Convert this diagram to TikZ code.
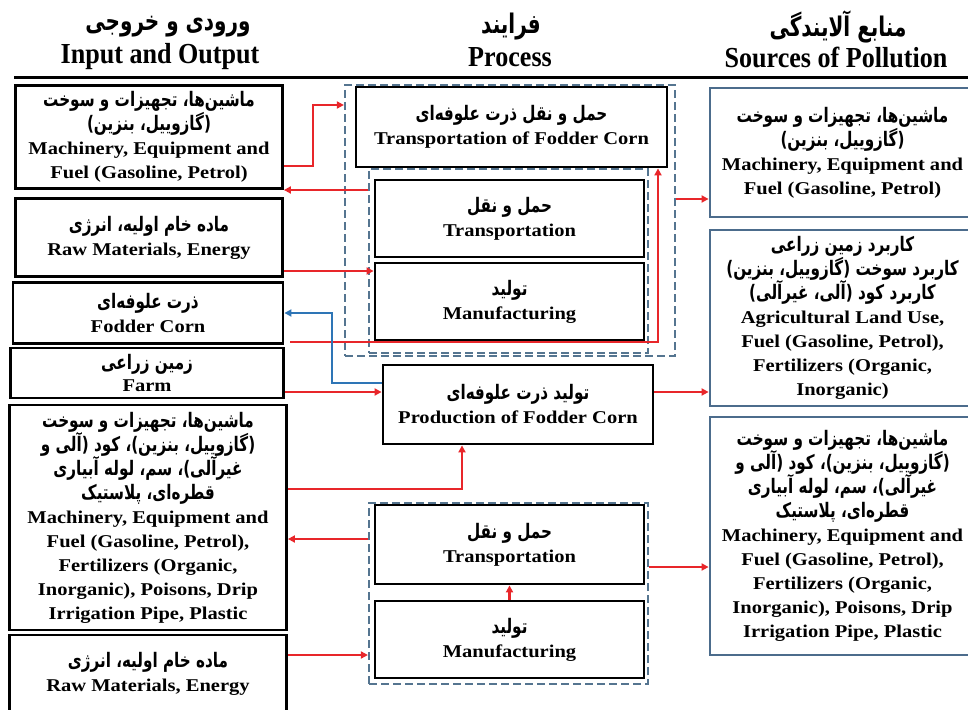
\documentclass[tikz,border=0pt]{standalone}
\usepackage{fontspec}
\usetikzlibrary{arrows.meta}
\setmainfont{Liberation Serif}
\newfontfamily\enfont[FakeStretch=1.14]{Liberation Serif}
\newfontfamily\hdfont[FakeStretch=0.9]{Liberation Serif}
\newfontfamily\fafont[Script=Arabic,FakeStretch=0.76]{DejaVu Sans}
\newfontfamily\fahfont[Script=Arabic,FakeStretch=0.74]{DejaVu Sans}
\TeXXeTstate=1
\newcommand{\fa}[1]{{\fafont\bfseries\fontsize{20}{20}\selectfont\beginR #1\endR}}
\newcommand{\fah}[1]{{\fahfont\bfseries\fontsize{27}{27}\selectfont\beginR #1\endR}}
\definecolor{ar}{HTML}{E8262A}
\definecolor{ab}{HTML}{2E75B6}
\definecolor{db}{HTML}{557590}
\definecolor{rb}{HTML}{4C6C8C}
\tikzset{
  blk/.style={draw=black, line width=2.8pt, fill=white, inner sep=1pt, align=center,
    font=\enfont\bfseries\fontsize{18}{24}\selectfont},
  rbx/.style={blk, draw=rb},
  dbx/.style={draw=db, line width=2.2pt, dash pattern=on 8pt off 4pt, inner sep=0pt},
  rarr/.style={draw=ar, line width=2.2pt, -{Triangle[length=7pt,width=7pt]}},
  barr/.style={draw=ab, line width=2.2pt, -{Triangle[length=7pt,width=7pt]}},
  hd/.style={align=center, inner sep=0pt, font=\hdfont\bfseries\fontsize{29}{30}\selectfont}
}
\begin{document}
\begin{tikzpicture}[x=1pt,y=-1pt]
\useasboundingbox (0,0) rectangle (968,709);
\begin{scope}
\clip (0,0) rectangle (968,709);
% headers
\node[hd] (h1a) at (168,27) {\fah{ورودی و خروجی}};
\node[hd] (h1b) at (160,57) {Input and Output};
\node[hd] (h2a) at (511,27) {\fah{فرایند}};
\node[hd] (h2b) at (510,57) {Process};
\node[hd] (h3a) at (838,27) {\fah{منابع آلایندگی}};
\node[hd] (h3b) at (836,57) {Sources of Pollution};
\draw[line width=3pt] (14,77) -- (968,77);

% dashed groups
\node[dbx, minimum width=330, minimum height=271] (outer) at (510,220.5) {};
\node[dbx, minimum width=279, minimum height=184] (inner) at (508.5,261) {};
\node[dbx, minimum width=279, minimum height=181] (lower) at (508.5,593.5) {};

% left column
\node[blk, minimum width=267, minimum height=103] (L1) at (149,137)
 {\fa{ماشین‌ها، تجهیزات و سوخت}\\\fa{(گازوییل، بنزین)}\\Machinery, Equipment and\\Fuel (Gasoline, Petrol)};
\node[blk, minimum width=267, minimum height=78] (L2) at (149,237.5)
 {\fa{ماده خام اولیه، انرژی}\\Raw Materials, Energy};
\node[blk, minimum width=270, minimum height=61] (L3) at (148,313)
 {\fa{ذرت علوفه‌ای}\\Fodder Corn};
\node[blk, minimum width=273, minimum height=50, font=\enfont\bfseries\fontsize{18}{22}\selectfont] (L4) at (147,373)
 {\fa{زمین زراعی}\\Farm};
\node[blk, minimum width=277, minimum height=225] (L5) at (148,517.5)
 {\fa{ماشین‌ها، تجهیزات و سوخت}\\\fa{(گازوییل، بنزین)، کود (آلی و}\\\fa{غیرآلی)، سم، لوله آبیاری}\\\fa{قطره‌ای، پلاستیک}\\Machinery, Equipment and\\Fuel (Gasoline, Petrol),\\Fertilizers (Organic,\\Inorganic), Poisons, Drip\\Irrigation Pipe, Plastic};
\node[blk, minimum width=277, minimum height=78] (L6) at (148,674)
 {\fa{ماده خام اولیه، انرژی}\\Raw Materials, Energy};

% middle column
\node[blk, minimum width=311, minimum height=80] (T0) at (511.5,127)
 {\fa{حمل و نقل ذرت علوفه‌ای}\\Transportation of Fodder Corn};
\node[blk, minimum width=269, minimum height=77] (T1) at (509.5,218.5)
 {\fa{حمل و نقل}\\Transportation};
\node[blk, minimum width=269, minimum height=77] (M1) at (509.5,301.5)
 {\fa{تولید}\\Manufacturing};
\node[blk, minimum width=270, minimum height=79] (P) at (518,404.5)
 {\fa{تولید ذرت علوفه‌ای}\\Production of Fodder Corn};
\node[blk, minimum width=269, minimum height=79] (T2) at (509.5,544.5)
 {\fa{حمل و نقل}\\Transportation};
\node[blk, minimum width=269, minimum height=77] (M2) at (509.5,639.5)
 {\fa{تولید}\\Manufacturing};

% right column
\node[rbx, minimum width=265, minimum height=129] (R1) at (842.5,152.5)
 {\fa{ماشین‌ها، تجهیزات و سوخت}\\\fa{(گازوییل، بنزین)}\\Machinery, Equipment and\\Fuel (Gasoline, Petrol)};
\node[rbx, minimum width=265, minimum height=176] (R2) at (842.5,318)
 {\fa{کاربرد زمین زراعی}\\\fa{کاربرد سوخت (گازوییل، بنزین)}\\\fa{کاربرد کود (آلی، غیرآلی)}\\Agricultural Land Use,\\Fuel (Gasoline, Petrol),\\Fertilizers (Organic,\\Inorganic)};
\node[rbx, minimum width=265, minimum height=238] (R3) at (842.5,536)
 {\fa{ماشین‌ها، تجهیزات و سوخت}\\\fa{(گازوییل، بنزین)، کود (آلی و}\\\fa{غیرآلی)، سم، لوله آبیاری}\\\fa{قطره‌ای، پلاستیک}\\Machinery, Equipment and\\Fuel (Gasoline, Petrol),\\Fertilizers (Organic,\\Inorganic), Poisons, Drip\\Irrigation Pipe, Plastic};

% connectors
\coordinate (c4) at (290,342);
\draw[rarr] (L1.east |- 0,166) -- (313,166) -- (313,105) -- (outer.west |- 0,105);
\draw[rarr] (inner.west |- 0,190) -- (L1.east |- 0,190);
\draw[rarr] (L2.east |- 0,271) -- (M1.west |- 0,271);
\draw[rarr] (c4) -- (658,342) -- (T0.south -| 658,0);
\draw[barr] (P.west |- 0,383) -- (332,383) -- (332,313) -- (L3.east |- 0,313);
\draw[rarr] (L4.east |- 0,392) -- (P.west |- 0,392);
\draw[rarr] (L5.east |- 0,489) -- (462,489) -- (P.south -| 462,0);
\draw[rarr] (lower.west |- 0,539) -- (L5.east |- 0,539);
\draw[rarr] (M2.north) -- (T2.south);
\draw[rarr] (L6.east |- 0,655) -- (lower.west |- 0,655);
\draw[rarr] (outer.east |- 0,199) -- (R1.west |- 0,199);
\draw[rarr] (P.east |- 0,392) -- (R2.west |- 0,392);
\draw[rarr] (lower.east |- 0,567) -- (R3.west |- 0,567);
\end{scope}
\end{tikzpicture}
\end{document}
